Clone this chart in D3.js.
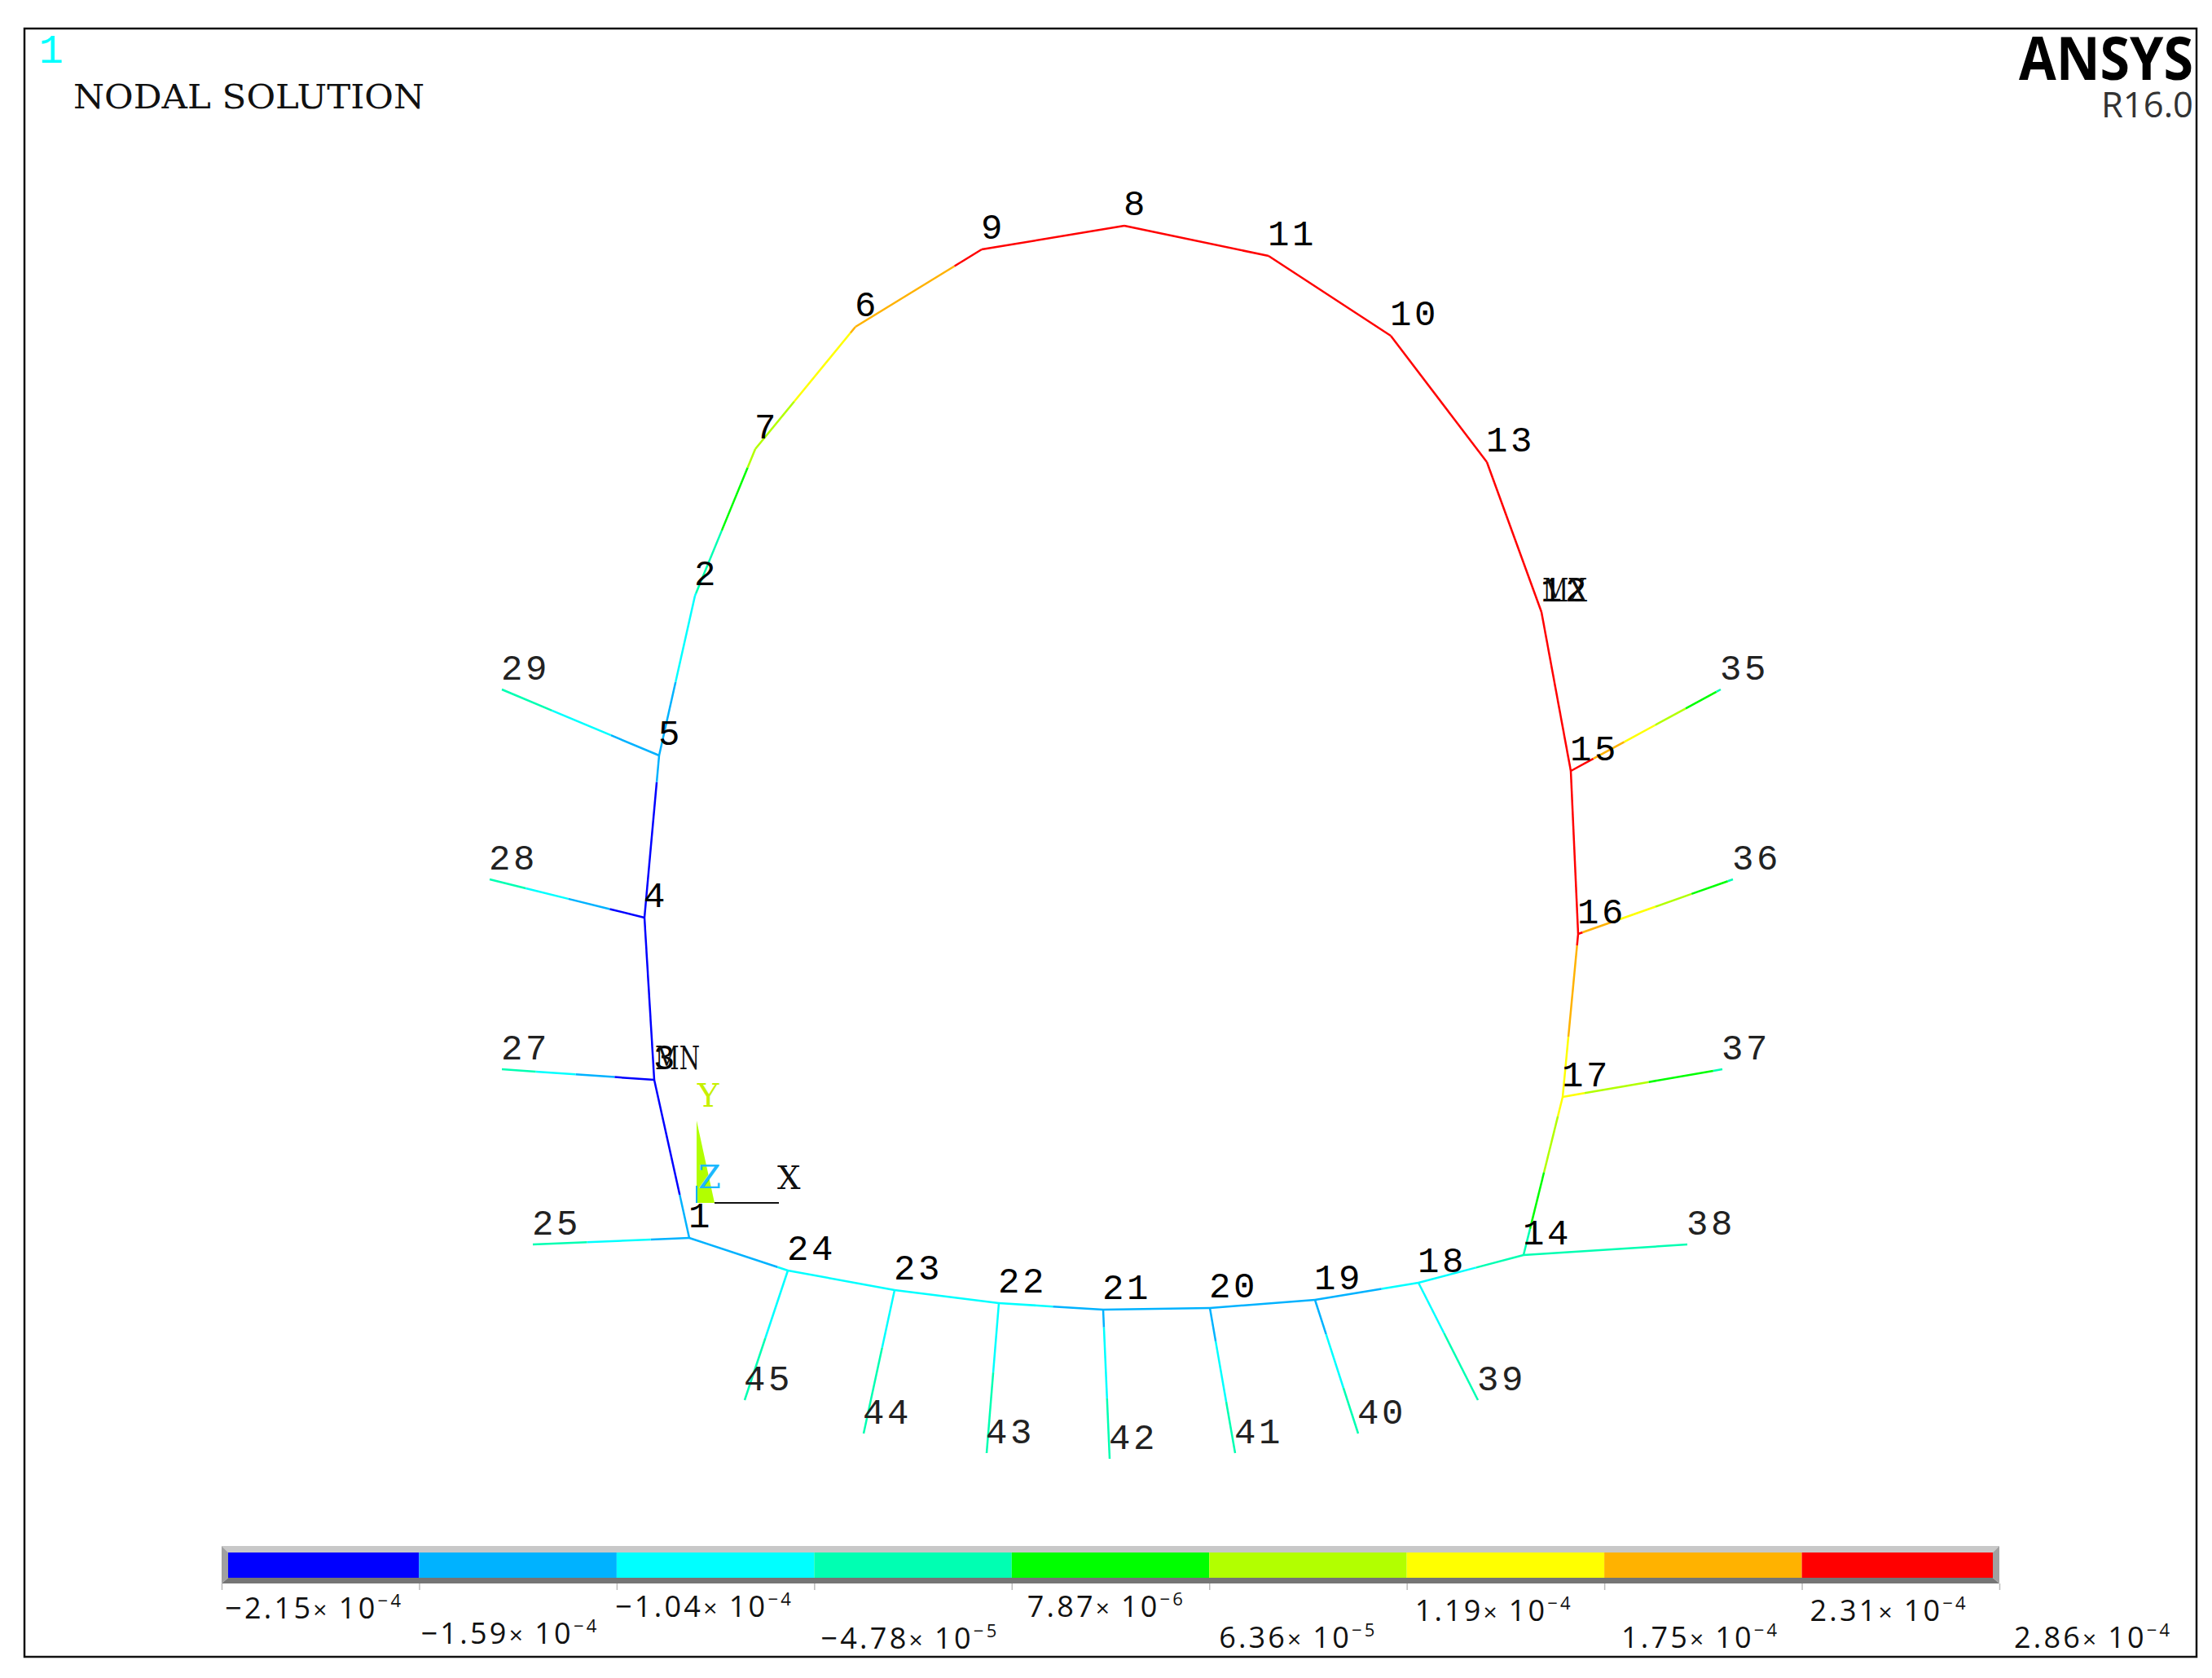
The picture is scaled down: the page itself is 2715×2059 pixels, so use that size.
<!DOCTYPE html>
<html>
<head>
<meta charset="utf-8">
<style>
  html, body { margin: 0; padding: 0; background: #fff; }
  svg { display: block; }
  .lbl { font-family: "Liberation Mono", monospace; font-size: 44px; letter-spacing: 3.5px; fill: #111; }
  .cap { font-family: "DejaVu Serif", serif; font-size: 40px; fill: #111; }
  .bar { font-family: "Open Sans", sans-serif; fill: #111; }
</style>
<script src="https://cdn.jsdelivr.net/npm/d3@7"></script>
</head>
<body>
<script>
//Width and height
var w = 2715;
var h = 2059;

//Nodes: model coordinates and nodal solution (x 1e-6)
var nodeIds = [1, 2, 3, 4, 5, 6, 7, 8, 9, 10, 11, 12, 13, 14, 15, 16, 17, 18, 19, 20, 21, 22, 23, 24,
  25, 27, 28, 29, 35, 36, 37, 38, 39, 40, 41, 42, 43, 44, 45];
var nodeX = [-0.09, -0.02, -0.52, -0.64, -0.46, 1.95, 0.72, 5.25, 3.50, 8.52, 7.02, 10.37, 9.70, 10.15, 10.73, 10.82, 10.63, 8.86, 7.59, 6.30, 4.99, 3.71, 2.43, 1.12,
  -2.01, -2.39, -2.54, -2.39, 12.57, 12.72, 12.59, 12.16, 9.59, 8.12, 6.61, 5.07, 3.56, 2.05, 0.59];
var nodeY = [-0.43, 7.45, 1.51, 3.50, 5.49, 10.75, 9.25, 11.99, 11.70, 10.64, 11.62, 7.25, 9.09, -0.64, 5.30, 3.30, 1.30, -0.98, -1.19, -1.29, -1.31, -1.23, -1.07, -0.83,
  -0.51, 1.64, 3.97, 6.30, 6.30, 3.97, 1.64, -0.51, -2.42, -2.83, -3.07, -3.14, -3.07, -2.83, -2.42];
var nodeValue = [-138, -50, -215, -205, -150, 180, 80, 265, 245, 282, 275, 286, 285, -18, 272, 238, 138, -84, -140, -135, -118, -89, -80, -100,
  0, 0, 0, 0, 0, 0, 0, 0, 0, 0, 0, 0, 0, 0, 0];

//Lining elements go round the ring, springs join a lining node to a fixed end
var ring = [1, 3, 4, 5, 2, 7, 6, 9, 8, 11, 10, 13, 12, 15, 16, 17, 14, 18, 19, 20, 21, 22, 23, 24, 1];
var springEnds = [25, 27, 28, 29, 35, 36, 37, 38, 39, 40, 41, 42, 43, 44, 45];
var springRoots = [1, 3, 4, 5, 15, 16, 17, 14, 18, 19, 20, 21, 22, 23, 24];

//Contour legend
var contourLevels = [-215, -159, -104, -47.8, 7.87, 63.6, 119, 175, 231, 286];
var contourColors = ["#0000ff", "#00b2ff", "#00ffff", "#00ffb2", "#00ff00", "#b2ff00", "#ffff00", "#ffb200", "#ff0000"];
var tickMantissa = ["\u22122.15", "\u22121.59", "\u22121.04", "\u22124.78", "7.87", "6.36", "1.19", "1.75", "2.31", "2.86"];
var tickExponent = ["\u22124", "\u22124", "\u22124", "\u22125", "\u22126", "\u22125", "\u22124", "\u22124", "\u22124", "\u22124"];

//Global triad, model coordinates
var triadY = [[0, 1.01], [0, 0], [0.22, 0]];
var triadX = [[0.22, 0], [1.01, 0]];
var triadZ = [[0, 0.21], [0, 0]];

var svg = d3.select("body").append("svg").attr("width", w).attr("height", h);

//Create scale functions
var xScale = d3.scaleLinear().domain([-8.55, 18.6]).range([0, w]);
var yScale = d3.scaleLinear().domain([14.76, -5.83]).range([0, h]);
var colorScale = d3.scaleThreshold().domain(contourLevels.slice(1, -1)).range(contourColors);
var barScale = d3.scalePoint().domain(contourLevels).range([272, 2454]);

var pos = {};
nodeIds.forEach(function (id, i) {
  pos[id] = { x: nodeX[i], y: nodeY[i], v: nodeValue[i] };
});

//Cut one element where the value crosses a contour level
function bands(a, b) {
  var cuts = contourLevels.filter(function (c) {
    return c > Math.min(a.v, b.v) && c < Math.max(a.v, b.v);
  }).map(function (c) {
    return (c - a.v) / (b.v - a.v);
  });
  var ts = [0].concat(cuts.sort(d3.ascending), [1]);
  return d3.pairs(ts).map(function (p) {
    var mid = (p[0] + p[1]) / 2;
    return {
      x1: a.x + (b.x - a.x) * p[0],
      y1: a.y + (b.y - a.y) * p[0],
      x2: a.x + (b.x - a.x) * p[1],
      y2: a.y + (b.y - a.y) * p[1],
      v: a.v + (b.v - a.v) * mid,
    };
  });
}

var segments = [];
d3.pairs(ring).forEach(function (p) {
  segments = segments.concat(bands(pos[p[0]], pos[p[1]]));
});
springEnds.forEach(function (id, i) {
  segments = segments.concat(bands(pos[springRoots[i]], pos[id]));
});

//Frame
svg.append("rect")
  .attr("x", 30).attr("y", 35)
  .attr("width", 2666).attr("height", 1998)
  .attr("fill", "none").attr("stroke", "#111").attr("stroke-width", 2.5);

//Elements
svg.append("g").selectAll("line")
  .data(segments)
  .join("line")
  .attr("x1", function (d) { return xScale(d.x1); })
  .attr("y1", function (d) { return yScale(d.y1); })
  .attr("x2", function (d) { return xScale(d.x2); })
  .attr("y2", function (d) { return yScale(d.y2); })
  .attr("stroke", function (d) { return colorScale(d.v); })
  .attr("stroke-width", 2.5);

//Triad
var triLine = d3.line()
  .x(function (d) { return xScale(d[0]); })
  .y(function (d) { return yScale(d[1]); });

svg.append("path").attr("d", triLine(triadY) + "Z").attr("fill", "#b2ff00");
svg.append("path").attr("d", triLine(triadX)).attr("fill", "none").attr("stroke", "#111").attr("stroke-width", 2);
svg.append("path").attr("d", triLine(triadZ)).attr("fill", "none").attr("stroke", "#00b2ff").attr("stroke-width", 2);

svg.append("text").attr("class", "cap").attr("x", xScale(0.01)).attr("y", yScale(1.18)).style("fill", "#c6f000").text("Y");
svg.append("text").attr("class", "cap").attr("x", xScale(0.02)).attr("y", yScale(0.18)).style("fill", "#1cb8ff").text("Z");
svg.append("text").attr("class", "cap").attr("x", xScale(0.99)).attr("y", yScale(0.17)).text("X");

//Node numbers
svg.append("g").selectAll("text")
  .data(nodeIds)
  .join("text")
  .attr("class", "lbl")
  .attr("x", function (d) { return xScale(pos[d].x) + (d < 25 ? -1 : -1); })
  .attr("y", function (d) { return yScale(pos[d].y) - (d < 25 ? 13 : 12); })
  .style("fill", function (d) { return d < 25 ? "#000" : "#222"; })
  .text(function (d) { return d; });

//MN and MX flags sit on the extreme nodes
var extremes = [["MN", d3.least(ring, function (id) { return pos[id].v; })], ["MX", d3.greatest(ring, function (id) { return pos[id].v; })]];
svg.append("g").selectAll("text")
  .data(extremes)
  .join("text")
  .attr("class", "cap")
  .attr("x", function (d) { return xScale(pos[d[1]].x) + 1; })
  .attr("y", function (d) { return yScale(pos[d[1]].y) - 13; })
  .attr("textLength", 55)
  .attr("lengthAdjust", "spacingAndGlyphs")
  .text(function (d) { return d[0]; });

//Titles
svg.append("text").attr("class", "lbl").attr("x", 48).attr("y", 77).style("font-size", "50px").style("fill", "#00ffff").text("1");
svg.append("text").attr("class", "cap").attr("x", 90).attr("y", 133).attr("textLength", 431).attr("lengthAdjust", "spacingAndGlyphs").style("font-size", "41px").text("NODAL SOLUTION");

svg.append("text")
  .attr("x", 2478).attr("y", 98)
  .attr("textLength", 214).attr("lengthAdjust", "spacingAndGlyphs")
  .style("font-family", "Open Sans, sans-serif").style("font-weight", 700).style("font-size", "74px")
  .style("fill", "#000")
  .text("ANSYS");
svg.append("text")
  .attr("x", 2579).attr("y", 144)
  .attr("textLength", 113).attr("lengthAdjust", "spacingAndGlyphs")
  .style("font-family", "Open Sans, sans-serif").style("font-size", "43px")
  .style("fill", "#333")
  .text("R16.0");

//Contour bar
var barTop = 1905, barBottom = 1936, bevelTop = 1897, bevelBottom = 1943, bevelSide = 8;
var bar = svg.append("g");
bar.selectAll("rect")
  .data(d3.pairs(contourLevels))
  .join("rect")
  .attr("x", function (d) { return barScale(d[0]); })
  .attr("y", barTop)
  .attr("width", function (d) { return barScale(d[1]) - barScale(d[0]); })
  .attr("height", barBottom - barTop)
  .attr("fill", function (d, i) { return contourColors[i]; });

var x0 = barScale.range()[0], x1 = barScale.range()[1];
var bevels = [
  { fill: "#c8c8c8", pts: [[x0, bevelTop], [x1, bevelTop], [x1 - bevelSide, barTop], [x0 + bevelSide, barTop]] },
  { fill: "#757575", pts: [[x0, bevelBottom], [x1, bevelBottom], [x1 - bevelSide, barBottom], [x0 + bevelSide, barBottom]] },
  { fill: "#a0a0a0", pts: [[x0, bevelTop], [x0 + bevelSide, barTop], [x0 + bevelSide, barBottom], [x0, bevelBottom]] },
  { fill: "#a0a0a0", pts: [[x1, bevelTop], [x1 - bevelSide, barTop], [x1 - bevelSide, barBottom], [x1, bevelBottom]] },
];
bar.selectAll("polygon")
  .data(bevels)
  .join("polygon")
  .attr("points", function (d) { return d.pts.join(" "); })
  .attr("fill", function (d) { return d.fill; });

//Ticks under the bar
var barAxis = d3.axisBottom(barScale).tickSize(8).tickFormat("");
var axisG = svg.append("g").attr("transform", "translate(0," + bevelBottom + ")").call(barAxis);
axisG.select(".domain").remove();
axisG.selectAll("line").attr("stroke", "#bbb").attr("stroke-width", 1.5);

//Tick labels take turns between two rows
var labelDx = [4, 2, -2, 8, 19, 12, 10, 21, 10, 18];
var labelBase = [1986, 2017, 1984, 2023, 1984, 2022, 1989, 2022, 1989, 2022];
var labels = svg.append("g").selectAll("text")
  .data(contourLevels)
  .join("text")
  .attr("class", "bar")
  .attr("x", function (d, i) { return barScale(d) + labelDx[i]; })
  .attr("y", function (d, i) { return labelBase[i]; })
  .attr("textLength", function (d, i) { return tickMantissa[i].charAt(0) === "\u2212" ? 216 : 191; })
  .style("font-size", "36px");
labels.append("tspan").text(function (d, i) { return tickMantissa[i]; });
labels.append("tspan").style("font-size", "30px").text("\u00d7 ");
labels.append("tspan").text("10");
labels.append("tspan").attr("dy", -14).style("font-size", "22px").text(function (d, i) { return tickExponent[i]; });
</script>
</body>
</html>
